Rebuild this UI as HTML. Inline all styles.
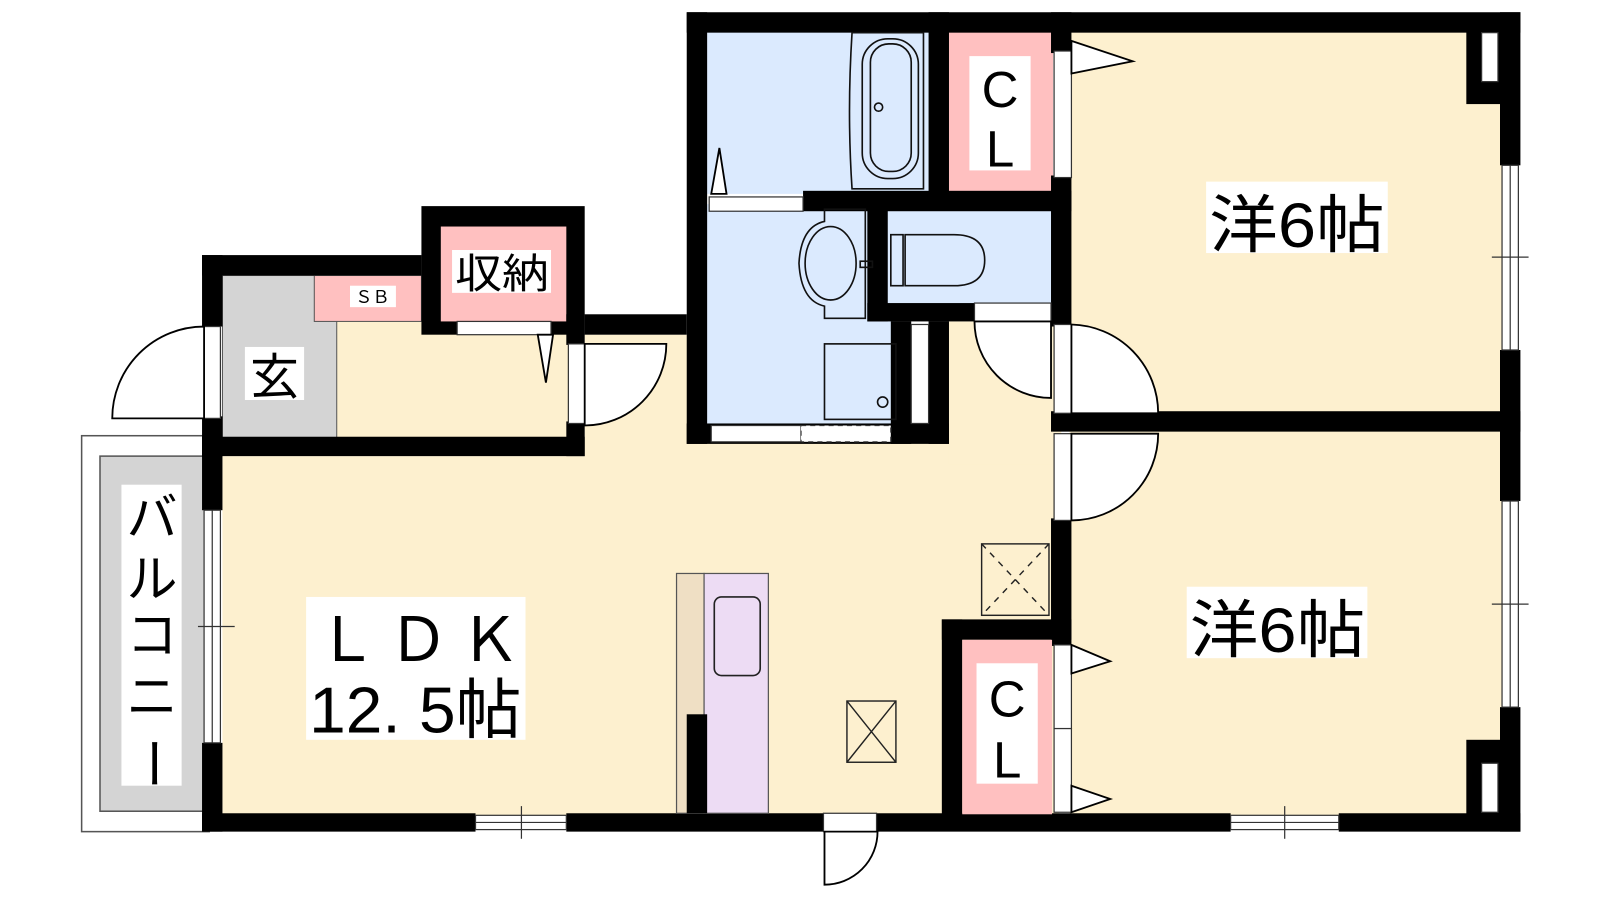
<!DOCTYPE html>
<html><head><meta charset="utf-8"><style>
html,body{margin:0;padding:0;background:#fff;}
svg{display:block}
text{font-family:"Liberation Sans","Noto Sans CJK JP",sans-serif;fill:#000}
</style></head><body>
<svg width="1600" height="900" viewBox="0 0 1568 882" xmlns="http://www.w3.org/2000/svg">
<!-- balcony -->
<rect x="80" y="427" width="125" height="388" fill="#fff" stroke="#555" stroke-width="1.5"/>
<rect x="98" y="447" width="105" height="348" fill="#d4d4d4" stroke="#555" stroke-width="1.5"/>
<!-- floors -->
<rect x="218" y="447" width="820" height="352" fill="#fdf0cf"/>
<rect x="573" y="430" width="467" height="30" fill="#fdf0cf"/>
<rect x="930" y="315" width="110" height="140" fill="#fdf0cf"/>
<rect x="573" y="328" width="110" height="130" fill="#fdf0cf"/>
<rect x="330" y="315" width="230" height="115" fill="#fdf0cf"/>
<rect x="218" y="270" width="112" height="160" fill="#d4d4d4" stroke="#555" stroke-width="1"/>
<rect x="308" y="270" width="105" height="45" fill="#ffc0c0" stroke="#555" stroke-width="1"/>
<rect x="1048" y="30" width="425" height="380" fill="#fdf0cf"/>
<rect x="1048" y="420" width="425" height="380" fill="#fdf0cf"/>
<rect x="693" y="30" width="220" height="160" fill="#dbeafe"/>
<rect x="693" y="200" width="185" height="230" fill="#dbeafe"/>
<rect x="868" y="205" width="165" height="95" fill="#dbeafe"/>
<rect x="930" y="30" width="102" height="160" fill="#ffc0c0"/>
<rect x="413" y="202" width="160" height="126" fill="#000"/>
<rect x="432" y="222" width="123" height="93" fill="#ffc0c0"/>
<!-- walls -->
<g fill="#000">
<rect x="673" y="12" width="817" height="20"/>
<rect x="1470" y="12" width="20" height="150"/>
<rect x="1470" y="343" width="20" height="148"/>
<rect x="1470" y="693" width="20" height="122"/>
<rect x="1437" y="30" width="35" height="72"/>
<rect x="1437" y="725" width="35" height="75"/>
<rect x="198" y="797" width="268" height="18"/>
<rect x="555" y="797" width="252" height="18"/>
<rect x="858" y="797" width="348" height="18"/>
<rect x="1312" y="797" width="178" height="18"/>
<rect x="198" y="428" width="20" height="72"/>
<rect x="198" y="728" width="20" height="87"/>
<rect x="198" y="250" width="215" height="20"/>
<rect x="198" y="250" width="20" height="70"/>
<rect x="198" y="408" width="20" height="40"/>
<rect x="198" y="428" width="375" height="19"/>
<rect x="555" y="308" width="18" height="30"/>
<rect x="555" y="413" width="18" height="34"/>
<rect x="573" y="308" width="100" height="20"/>
<rect x="673" y="12" width="20" height="423"/>
<rect x="910" y="12" width="20" height="190"/>
<rect x="787" y="187" width="263" height="20"/>
<rect x="1030" y="12" width="20" height="40"/>
<rect x="1030" y="172" width="20" height="148"/>
<rect x="850" y="205" width="20" height="110"/>
<rect x="850" y="297" width="105" height="18"/>
<rect x="873" y="315" width="20" height="120"/>
<rect x="910" y="315" width="20" height="120"/>
<rect x="673" y="415" width="257" height="20"/>
<rect x="1030" y="403" width="460" height="20"/>
<rect x="1030" y="508" width="20" height="125"/>
<rect x="923" y="607" width="127" height="20"/>
<rect x="923" y="607" width="20" height="200"/>
<rect x="673" y="700" width="20" height="100"/>
</g>
<rect x="943" y="627" width="88" height="171" fill="#ffc0c0"/>
<!-- openings / door strips -->
<g fill="#fff" stroke="#333" stroke-width="1.2">
<rect x="1033" y="50" width="17" height="124"/>
<rect x="695" y="193" width="92" height="14"/>
<rect x="955" y="297" width="75" height="18"/>
<rect x="893" y="318" width="17" height="97"/>
<rect x="1033" y="318" width="17" height="87"/>
<rect x="1033" y="425" width="17" height="85"/>
<rect x="1033" y="632" width="17" height="82"/>
<rect x="1033" y="714" width="17" height="82"/>
<rect x="200" y="320" width="16" height="90"/>
<rect x="557" y="337" width="16" height="78"/>
<rect x="448" y="315" width="92" height="13"/>
<rect x="697" y="417" width="88" height="16"/>
<rect x="807" y="797" width="52" height="18"/>
<rect x="1452" y="32" width="16" height="48"/>
<rect x="1452" y="748" width="16" height="48"/>
</g>
<rect x="785" y="417" width="88" height="16" fill="#fff" stroke="#333" stroke-width="1.2" stroke-dasharray="5,4"/>
<!-- windows -->
<g fill="#fff" stroke="#333" stroke-width="1.2">
<rect x="200" y="500" width="16" height="228"/><line x1="208" y1="500" x2="208" y2="728"/>
<rect x="466" y="799" width="89" height="14"/><line x1="466" y1="806" x2="555" y2="806"/>
<rect x="1206" y="799" width="106" height="14"/><line x1="1206" y1="806" x2="1312" y2="806"/>
<rect x="1472" y="162" width="16" height="181"/><line x1="1480" y1="162" x2="1480" y2="343"/>
<rect x="1472" y="491" width="16" height="202"/><line x1="1480" y1="491" x2="1480" y2="693"/>
</g>
<g stroke="#333" stroke-width="1.2" fill="none">
<line x1="194" y1="614" x2="230" y2="614"/>
<line x1="511" y1="790" x2="511" y2="822"/>
<line x1="1259" y1="790" x2="1259" y2="822"/>
<line x1="1462" y1="252" x2="1498" y2="252"/>
<line x1="1462" y1="592" x2="1498" y2="592"/>
</g>
<!-- door arcs -->
<g stroke="#000" stroke-width="1.8" fill="#fff">
<path d="M200 320 A90 90 0 0 0 110 410 L200 410 Z"/>
<path d="M573 337 L653 337 A80 80 0 0 1 573 417 Z"/>
<path d="M1050 318 A87 87 0 0 1 1135 405 L1050 405 Z"/>
<path d="M955 315 A75 75 0 0 0 1030 390 L1030 315 Z"/>
<path d="M1050 425 L1135 425 A85 85 0 0 1 1050 510 Z"/>
<path d="M808 815 L860 815 A52 52 0 0 1 808 867 Z"/>
<path d="M1050 40 L1110 60 L1050 72 Z"/>
<path d="M697 190 L705 145 L712 190 Z"/>
<path d="M527 328 L535 375 L542 328 Z"/>
<path d="M1050 632 L1088 648 L1050 660 Z"/>
<path d="M1050 770 L1088 783 L1050 796 Z"/>
</g>
<!-- bath fixtures -->
<g stroke="#111" stroke-width="1.6" fill="none">
<path d="M835 32 L905 32 L905 185 L835 185 Q830 110 835 32 Z" fill="#dbeafe"/>
<rect x="845" y="38" width="55" height="137" rx="25"/>
<rect x="853" y="43" width="40" height="125" rx="18"/>
<circle cx="861" cy="105" r="4"/>
<path d="M808 205 L848 205 L848 312 L808 312 L808 300 Q785 295 783 258 Q785 222 808 217 Z"/>
<ellipse cx="814" cy="258" rx="25" ry="36"/>
<rect x="843" y="256" width="12" height="6"/>
<rect x="873" y="230" width="12" height="50"/>
<path d="M887 230 L935 230 Q965 230 965 255 Q965 280 935 280 L887 280 Z"/>
<rect x="808" y="337" width="70" height="74"/>
<circle cx="865" cy="394" r="5"/>
</g>
<!-- kitchen -->
<rect x="663" y="562" width="27" height="235" fill="#efdfc4" stroke="#555" stroke-width="1.2"/>
<rect x="690" y="562" width="63" height="235" fill="#eddcf4" stroke="#555" stroke-width="1.2"/>
<rect x="673" y="700" width="20" height="97" fill="#000"/>
<rect x="700" y="585" width="45" height="77" rx="7" fill="none" stroke="#222" stroke-width="1.6"/>
<g stroke="#222" stroke-width="1.4" fill="none">
<rect x="830" y="687" width="48" height="60"/>
<path d="M830 687 L878 747 M878 687 L830 747"/>
<rect x="962" y="533" width="66" height="70"/>
<path d="M962 533 L1028 603 M1028 533 L962 603" stroke-dasharray="6,6"/>
</g>
<!-- labels -->
<g fill="#fff">
<rect x="119" y="475" width="59" height="295"/>
<rect x="300" y="585" width="215" height="140"/>
<rect x="240" y="340" width="58" height="52"/>
<rect x="443" y="245" width="97" height="42"/>
<rect x="343" y="280" width="45" height="21"/>
<rect x="950" y="55" width="60" height="112"/>
<rect x="957" y="650" width="60" height="118"/>
<rect x="1182" y="178" width="178" height="70"/>
<rect x="1163" y="575" width="177" height="70"/>
</g>
<text x="980" y="105" font-size="50" text-anchor="middle">C</text>
<text x="980" y="163" font-size="50" text-anchor="middle">L</text>
<text x="987" y="702" font-size="50" text-anchor="middle">C</text>
<text x="987" y="762" font-size="50" text-anchor="middle">L</text>
<text x="1185" y="242" font-size="62" textLength="172" lengthAdjust="spacingAndGlyphs">洋6帖</text>
<text x="1166" y="639" font-size="62" textLength="172" lengthAdjust="spacingAndGlyphs">洋6帖</text>
<text x="310" y="648" font-size="60" textLength="200" lengthAdjust="spacing">ＬＤＫ</text>
<text x="303" y="718" font-size="64" textLength="208" lengthAdjust="spacingAndGlyphs">12. 5帖</text>
<text x="269" y="386" font-size="48" text-anchor="middle">玄</text>
<text x="446" y="282" font-size="40" textLength="92" lengthAdjust="spacingAndGlyphs">収納</text>
<text x="365" y="297" font-size="17" text-anchor="middle">ＳＢ</text>
<g font-size="50" text-anchor="middle">
<text x="149" y="525">バ</text>
<text x="149" y="585">ル</text>
<text x="149" y="640">コ</text>
<text x="149" y="700">ニ</text>
<text x="149" y="765" transform="rotate(90 149 748)" font-size="52">ー</text>
</g>
</svg>
</body></html>
